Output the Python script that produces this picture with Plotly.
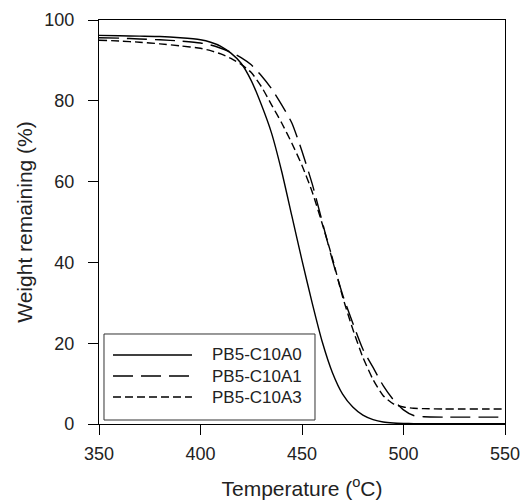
import plotly.graph_objects as go

temperature = [350, 360, 370, 380, 390, 400, 405, 410, 415, 420, 425, 430, 435, 440,
               445, 450, 455, 460, 465, 470, 475, 480, 485, 490, 495, 500, 505, 510,
               520, 530, 540, 550]

pb5_c10a0 = [96.2, 96.1, 96.0, 95.9, 95.6, 95.1, 94.5, 93.5, 91.8, 89.3, 85.0, 79.0, 72.0, 62.5,
             51.5, 40.5, 30.0, 20.3, 12.7, 7.4, 4.2, 2.2, 1.1, 0.5, 0.25, 0.15, 0.1, 0.1,
             0.1, 0.1, 0.1, 0.1]

pb5_c10a1 = [95.6, 95.5, 95.3, 95.1, 94.8, 94.3, 93.8, 93.0, 92.0, 90.7, 88.9, 86.2, 83.0, 79.0,
             74.5, 67.5, 59.5, 50.0, 40.5, 32.0, 25.0, 18.5, 14.0, 9.5, 6.0, 3.5, 2.1, 1.8,
             1.7, 1.7, 1.7, 1.7]

pb5_c10a3 = [95.0, 94.8, 94.5, 94.1, 93.6, 93.0, 92.4, 91.6, 90.5, 89.0, 87.0, 83.5, 79.0, 74.5,
             69.5, 64.0, 57.5, 49.5, 41.0, 31.5, 23.5, 16.5, 11.0, 7.0, 5.0, 4.2, 3.9, 3.8,
             3.7, 3.7, 3.7, 3.7]

series_names = ["PB5-C10A0", "PB5-C10A1", "PB5-C10A3"]
series_values = [pb5_c10a0, pb5_c10a1, pb5_c10a3]
series_dash = ["solid", "20px,8px", "8px,4px"]

x_ticks = [350, 400, 450, 500, 550]
y_ticks = [0, 20, 40, 60, 80, 100]

FONT = "Liberation Sans, Arial, sans-serif"
LINE_W = 1.4

fig = go.Figure()
for name, vals, dash in zip(series_names, series_values, series_dash):
    fig.add_trace(go.Scatter(
        x=temperature, y=vals, name=name, mode="lines", showlegend=False,
        line=dict(color="black", width=LINE_W, dash=dash, shape="spline", smoothing=0.6),
    ))

axis_common = dict(
    showline=True, linecolor="black", linewidth=1.2, mirror=True,
    ticks="outside", ticklen=10, tickwidth=1.2, tickcolor="black",
    showgrid=False, zeroline=False, automargin=False,
    tickfont=dict(family=FONT, size=18, color="#222"),
)

# legend box drawn in plot-area (paper) coordinates
legend_box = dict(x0=0.0123, x1=0.532, y0=0.0099, y1=0.2228)
legend_rows_y = [0.1708, 0.1188, 0.0668]
sample_x = (0.0345, 0.229)
label_x = 0.2734

shapes = [dict(type="rect", xref="paper", yref="paper", **legend_box,
               line=dict(color="#333", width=1), fillcolor="white", layer="above")]
annotations = []
for name, dash, yy in zip(series_names, series_dash, legend_rows_y):
    shapes.append(dict(type="line", xref="paper", yref="paper",
                       x0=sample_x[0], x1=sample_x[1], y0=yy, y1=yy,
                       line=dict(color="black", width=LINE_W, dash=dash), layer="above"))
    annotations.append(dict(text=name, xref="paper", yref="paper", x=label_x, y=yy,
                            xanchor="left", yanchor="middle", showarrow=False,
                            font=dict(family=FONT, size=17, color="#222")))

fig.update_layout(
    width=521, height=500,
    margin=dict(l=99, r=16, t=20, b=76),
    paper_bgcolor="white", plot_bgcolor="white",
    font=dict(family=FONT, color="#222"),
    showlegend=False,
    xaxis=dict(range=[350, 550], tickvals=x_ticks, ticklabelstandoff=3,
               title=dict(text="Temperature (<sup>o</sup>C)", font=dict(family=FONT, size=21), standoff=20),
               **axis_common),
    yaxis=dict(range=[0, 100], tickvals=y_ticks, ticklabelstandoff=10,
               title=dict(text="Weight remaining (%)", font=dict(family=FONT, size=21), standoff=5),
               **axis_common),
    shapes=shapes,
    annotations=annotations,
)

fig.write_html("out.html")
